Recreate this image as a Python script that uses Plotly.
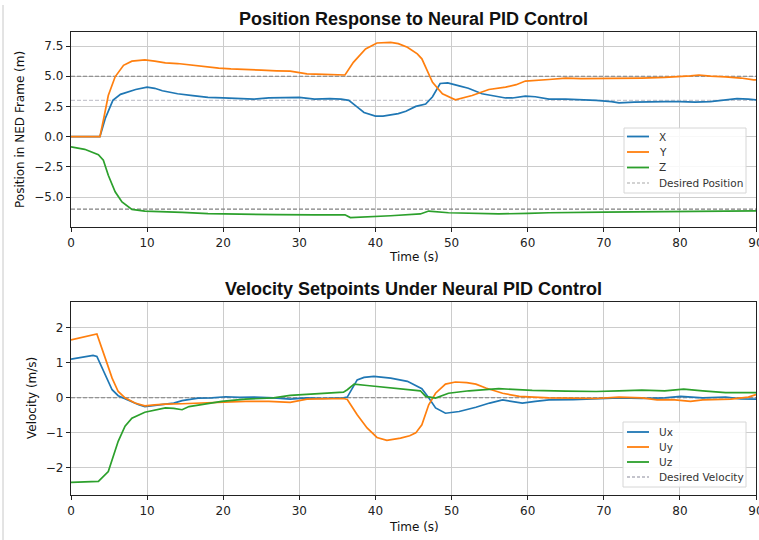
import plotly.graph_objects as go

# ---------------- data ----------------
# Position response (m)
t_x = [0, 3.8, 4.5, 5.5, 6.5, 7.5, 8.5, 10, 11, 12, 14, 16, 18, 20, 22, 24, 26, 28, 30, 32, 34, 35.5,
       36.5, 37.5, 38.5, 40, 41, 42, 43, 44, 45.3, 46.6, 47.5, 48.5, 49.5, 51, 52.2, 54, 55.5, 57.1, 58,
       59.7, 61, 62.8, 65, 67.2, 69, 71, 72, 74, 76, 78, 80, 82, 84, 86, 87.5, 89, 90]
pos_x = [0, 0, 1.5, 3.0, 3.5, 3.7, 3.9, 4.1, 4.0, 3.8, 3.55, 3.4, 3.25, 3.2, 3.15, 3.1, 3.2, 3.25, 3.25,
         3.1, 3.15, 3.1, 3.0, 2.5, 2.0, 1.7, 1.7, 1.8, 1.9, 2.1, 2.5, 2.7, 3.3, 4.4, 4.45, 4.2, 4.0, 3.55,
         3.35, 3.2, 3.2, 3.35, 3.3, 3.1, 3.1, 3.05, 3.0, 2.9, 2.8, 2.85, 2.9, 2.9, 2.9, 2.85, 2.9, 3.05,
         3.15, 3.1, 3.05]

t_y = [0, 3.8, 4.3, 4.9, 5.8, 6.9, 8, 9.7, 11, 12.4, 14, 15.9, 17.5, 19.4, 21, 22.9, 25, 27, 28.8, 30,
       31, 33.2, 36, 37.1, 38.7, 40.2, 42, 43, 44.2, 45.5, 46.1, 47.5, 48.8, 50.5, 52.7, 54.9, 57.1, 58.5,
       59.7, 62.8, 65, 67, 69, 72, 75, 78, 80, 81.4, 82.5, 84, 86, 88, 89.7, 90]
pos_y = [0, 0, 1.5, 3.4, 4.95, 5.9, 6.25, 6.35, 6.25, 6.1, 6.05, 5.9, 5.8, 5.67, 5.6, 5.53, 5.5, 5.45,
         5.42, 5.3, 5.2, 5.15, 5.1, 6.15, 7.26, 7.75, 7.8, 7.7, 7.4, 6.85, 6.44, 4.5, 3.55, 3.05, 3.4,
         3.9, 4.1, 4.3, 4.6, 4.73, 4.85, 4.8, 4.8, 4.85, 4.85, 4.9, 4.95, 5.03, 5.1, 5.0, 4.95, 4.85,
         4.7, 4.7]

t_z = [0, 1.8, 3.6, 4.25, 4.9, 5.8, 6.7, 8, 9.7, 12, 14.6, 18, 22.9, 27, 32, 36, 36.7, 37.5, 39.7, 42,
       45.9, 47, 49.6, 53, 56.2, 60, 62.8, 70, 80, 90]
pos_z = [-0.85, -1.05, -1.5, -1.95, -3.2, -4.56, -5.4, -6.02, -6.16, -6.2, -6.27, -6.38, -6.44, -6.45,
         -6.47, -6.47, -6.7, -6.68, -6.6, -6.55, -6.4, -6.16, -6.3, -6.35, -6.4, -6.35, -6.3, -6.25,
         -6.2, -6.15]

desired_pos_x = 3.0
desired_pos_y = 5.0
desired_pos_z = -6.0
t_span = [0, 90]

# Velocity setpoints (m/s)
t_ux = [0, 1.5, 2.9, 3.4, 4.5, 5.4, 6.2, 7.5, 8.9, 9.7, 11, 12.4, 13.5, 14.6, 16.7, 18.5, 20.3, 22.2,
        24, 26.6, 28.8, 31, 33, 35.8, 36.3, 37.6, 38.5, 39.8, 42, 44.2, 45.3, 46.1, 47, 47.9, 49.2, 51,
        53.2, 55, 56.7, 59.3, 61, 62.8, 66, 69, 72, 75, 78, 80.1, 83, 86, 88, 90]
ux = [1.1, 1.15, 1.21, 1.18, 0.66, 0.23, 0.06, -0.06, -0.2, -0.25, -0.22, -0.18, -0.15, -0.08, -0.01,
      0.0, 0.03, 0.01, 0.02, 0.0, -0.04, 0.0, -0.02, 0.0, 0.02, 0.51, 0.58, 0.61, 0.56, 0.47, 0.35,
      0.26, 0.0, -0.29, -0.44, -0.39, -0.27, -0.15, -0.06, -0.15, -0.1, -0.06, -0.05, -0.03, 0.0,
      -0.02, 0.0, 0.04, 0.0, 0.02, -0.03, -0.04]

t_uy = [0, 1.5, 3.4, 4.5, 5.4, 6.2, 7.1, 8.4, 9.7, 11, 12.4, 14.6, 16.8, 19, 22.9, 26, 28.8, 31, 33,
        35.8, 36.3, 37.6, 38.9, 40.2, 41.5, 43.3, 44.5, 45.3, 46.1, 47, 47.9, 49.2, 50.5, 52, 53.2,
        54.5, 56.7, 58.9, 62.8, 66, 69, 72, 75, 77, 79, 81.4, 83, 86.7, 89, 90]
uy = [1.65, 1.72, 1.82, 1.13, 0.56, 0.18, 0.0, -0.15, -0.23, -0.2, -0.18, -0.17, -0.15, -0.12, -0.1,
      -0.1, -0.13, -0.04, -0.03, -0.02, -0.05, -0.48, -0.86, -1.13, -1.21, -1.15, -1.08, -1.0, -0.77,
      -0.2, 0.13, 0.39, 0.45, 0.43, 0.39, 0.28, 0.13, 0.04, 0.0, -0.02, -0.02, 0.02, 0.0, -0.06,
      -0.05, -0.1, -0.06, -0.04, 0.02, 0.09]

t_uz = [0, 3.6, 4.9, 5.5, 6.2, 7.1, 8, 9.7, 11, 12.4, 13.5, 14.6, 15.5, 16.8, 18, 19.8, 22.9, 26.6,
        28.8, 31, 33.6, 35.8, 36.3, 37.2, 38.9, 42, 45.9, 46.6, 47.9, 49.6, 52.3, 56.2, 60.6, 65, 69,
        72, 75, 78, 80.5, 83, 86, 90]
uz = [-2.41, -2.38, -2.1, -1.7, -1.24, -0.81, -0.58, -0.41, -0.35, -0.29, -0.3, -0.34, -0.25, -0.2,
      -0.15, -0.1, -0.04, 0.0, 0.07, 0.1, 0.13, 0.16, 0.23, 0.39, 0.35, 0.28, 0.2, 0.04, -0.01, 0.13,
      0.2, 0.26, 0.21, 0.19, 0.18, 0.2, 0.22, 0.2, 0.25, 0.2, 0.15, 0.15]

desired_vel = 0.0

x_ticks = [0, 10, 20, 30, 40, 50, 60, 70, 80, 90]
pos_ticks = [-5.0, -2.5, 0.0, 2.5, 5.0, 7.5]
vel_ticks = [-2, -1, 0, 1, 2]

pos_legend_labels = ["X", "Y", "Z", "Desired Position"]
vel_legend_labels = ["Ux", "Uy", "Uz", "Desired Velocity"]

for a, b in [(t_x, pos_x), (t_y, pos_y), (t_z, pos_z), (t_ux, ux), (t_uy, uy), (t_uz, uz)]:
    assert len(a) == len(b), (len(a), len(b))

# ---------------- figure ----------------
BLUE, ORANGE, GREEN = "#1f77b4", "#ff7f0e", "#2ca02c"
DASH_DARK, DASH_LIGHT = "#808080", "#c8c8d0"
SHORT_DASH = "4px,2px"
fig = go.Figure()

def line(x, y, name, color, xa, ya, dash="solid", width=1.7):
    fig.add_trace(go.Scatter(x=x, y=y, mode="lines", name=name, xaxis=xa, yaxis=ya,
                             showlegend=False, hoverinfo="skip",
                             line=dict(color=color, width=width, dash=dash)))

# top panel
line(t_span, [desired_pos_x] * 2, "Desired X", DASH_LIGHT, "x", "y", dash=SHORT_DASH, width=1.1)
line(t_span, [desired_pos_y] * 2, "Desired Y", DASH_DARK, "x", "y", dash=SHORT_DASH, width=1.1)
line(t_span, [desired_pos_z] * 2, "Desired Z", DASH_DARK, "x", "y", dash=SHORT_DASH, width=1.1)
line(t_x, pos_x, "X", BLUE, "x", "y")
line(t_y, pos_y, "Y", ORANGE, "x", "y")
line(t_z, pos_z, "Z", GREEN, "x", "y")

# bottom panel
line(t_span, [desired_vel] * 2, "Desired Velocity", DASH_DARK, "x2", "y2", dash=SHORT_DASH, width=1.1)
line(t_ux, ux, "Ux", BLUE, "x2", "y2")
line(t_uy, uy, "Uy", ORANGE, "x2", "y2")
line(t_uz, uz, "Uz", GREEN, "x2", "y2")

W, H = 759, 540
px = lambda v: v / W
py = lambda v: 1 - v / H
xd = [px(71), px(756)]
top_dom = [py(227), py(32)]
bot_dom = [py(495), py(302)]

axis_common = dict(showline=True, linecolor="#222", linewidth=1.2, mirror=True, automargin=False,
                   showgrid=True, gridcolor="#cccccc", gridwidth=1, zeroline=False,
                   ticks="outside", ticklen=4, tickcolor="#222", ticklabeloverflow="allow",
                   tickfont=dict(family="DejaVu Sans", size=12, color="#222"))

def ann(text, x, y, size=12, angle=0, bold=False, family="DejaVu Sans", xanchor="center", color="#111"):
    return dict(text=f"<b>{text}</b>" if bold else text, x=px(x), y=py(y), xref="paper", yref="paper",
                showarrow=False, xanchor=xanchor, yanchor="middle", textangle=angle,
                font=dict(size=size, family=family, color=color))

annotations = [
    ann("Position Response to Neural PID Control", 413.5, 19, size=18, bold=True, family="Liberation Sans"),
    ann("Velocity Setpoints Under Neural PID Control", 413.5, 289, size=18, bold=True, family="Liberation Sans"),
    ann("Time (s)", 413.5, 257, size=12),
    ann("Time (s)", 413.5, 527, size=12),
    ann("Position in NED Frame (m)", 20, 130, size=12, angle=-90),
    ann("Velocity (m/s)", 32, 398, size=12, angle=-90),
]
shapes = [dict(type="line", xref="paper", yref="paper", x0=px(3), x1=px(3), y0=0, y1=py(5),
               line=dict(color="#c8c8c8", width=1))]

# custom matplotlib-style legends (box, line samples, labels)
def add_legend(labels, colors, dashes, box, first_y, step):
    x0, y0, x1, y1 = box
    shapes.append(dict(type="rect", xref="paper", yref="paper", x0=px(x0), x1=px(x1), y0=py(y1), y1=py(y0),
                       line=dict(color="#d6d6d6", width=1), fillcolor="rgba(255,255,255,0.85)", layer="above"))
    for i, (lab, c, d) in enumerate(zip(labels, colors, dashes)):
        yy = first_y + i * step
        shapes.append(dict(type="line", xref="paper", yref="paper", x0=px(627), x1=px(649), y0=py(yy), y1=py(yy),
                           line=dict(color=c, width=1.1 if d != "solid" else 1.8, dash=d), layer="above"))
        annotations.append(ann(lab, 657, yy, size=10.5, xanchor="left", color="#333"))

add_legend(pos_legend_labels, [BLUE, ORANGE, GREEN, "#a8a8a8"], ["solid", "solid", "solid", "3px,2px"],
           (624, 128, 746, 193), 136.5, 15.5)
add_legend(vel_legend_labels, [BLUE, ORANGE, GREEN, "#8a8a9a"], ["solid", "solid", "solid", "3px,2px"],
           (623, 422, 746, 487), 432, 15)

fig.update_layout(
    width=W, height=H, margin=dict(l=0, r=0, t=0, b=0),
    paper_bgcolor="white", plot_bgcolor="white",
    font=dict(family="DejaVu Sans", color="#222"),
    showlegend=False, hovermode=False,
    xaxis=dict(domain=xd, anchor="y", range=[0, 90], tickvals=x_ticks, **axis_common),
    yaxis=dict(domain=top_dom, anchor="x", range=[-7.48, 8.66], tickvals=pos_ticks, tickformat=".1f",
               **axis_common),
    xaxis2=dict(domain=xd, anchor="y2", range=[0, 90], tickvals=x_ticks, **axis_common),
    yaxis2=dict(domain=bot_dom, anchor="x2", range=[-2.77, 2.73], tickvals=vel_ticks, **axis_common),
    annotations=annotations,
    shapes=shapes,
)

fig.write_html("out.html", config={"displayModeBar": False, "staticPlot": True},
               post_script="document.body.style.margin='0';document.body.style.overflow='hidden';")
